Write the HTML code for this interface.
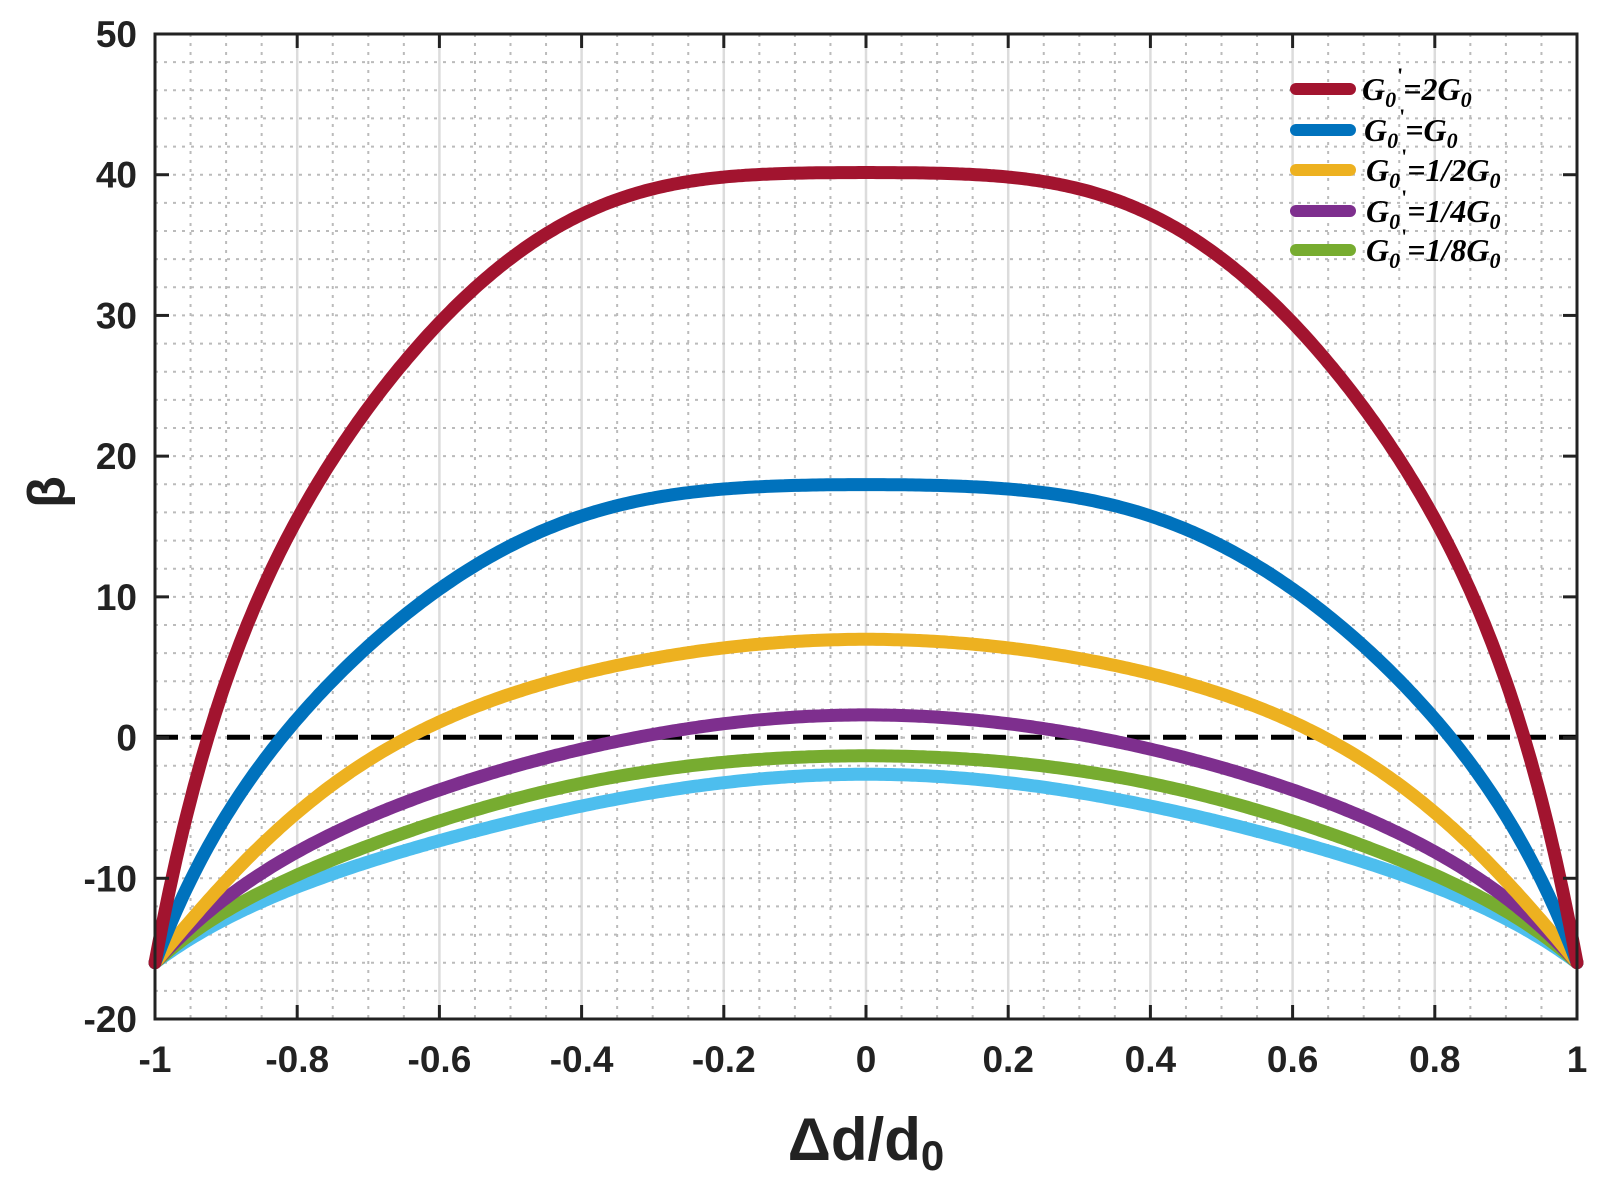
<!DOCTYPE html>
<html><head><meta charset="utf-8"><style>
html,body{margin:0;padding:0;background:#fff;}
svg{display:block;}
.t{font-family:"Liberation Sans",Arial,sans-serif;font-weight:bold;fill:#222;}
.lg{font-family:"Liberation Serif","Times New Roman",serif;font-weight:bold;font-style:italic;fill:#000;font-size:32px;}
</style></head><body>
<svg id="s" width="1620" height="1184" viewBox="0 0 1620 1184" xmlns="http://www.w3.org/2000/svg">
<g id="grid"></g>
<line x1="155" y1="737.3" x2="1577" y2="737.3" stroke="#000" stroke-width="5" stroke-dasharray="23,13"/>
<g id="curves" fill="none" stroke-width="13" stroke-linecap="round" stroke-linejoin="round"></g>
<g id="axes"></g>
<g id="labels"></g>
<g>
<line x1="1296" y1="89" x2="1350" y2="89" stroke="#A2142F" stroke-width="12" stroke-linecap="round"/>
<line x1="1296" y1="130" x2="1350" y2="130" stroke="#0072BD" stroke-width="12" stroke-linecap="round"/>
<line x1="1296" y1="170" x2="1350" y2="170" stroke="#EDB120" stroke-width="12" stroke-linecap="round"/>
<line x1="1296" y1="211" x2="1350" y2="211" stroke="#7E2F8E" stroke-width="12" stroke-linecap="round"/>
<line x1="1296" y1="250" x2="1350" y2="250" stroke="#77AC30" stroke-width="12" stroke-linecap="round"/>
<text class="lg" x="1362" y="100">G<tspan font-size="22" dy="7">0</tspan><tspan font-size="22" font-style="normal" dx="1" dy="-24">'</tspan><tspan dy="17">=2G</tspan><tspan font-size="22" dy="7">0</tspan></text>
<text class="lg" x="1364" y="141">G<tspan font-size="22" dy="7">0</tspan><tspan font-size="22" font-style="normal" dx="1" dy="-24">'</tspan><tspan dy="17">=G</tspan><tspan font-size="22" dy="7">0</tspan></text>
<text class="lg" x="1366" y="181">G<tspan font-size="22" dy="7">0</tspan><tspan font-size="22" font-style="normal" dx="1" dy="-24">'</tspan><tspan dy="17">=1/2G</tspan><tspan font-size="22" dy="7">0</tspan></text>
<text class="lg" x="1366" y="222">G<tspan font-size="22" dy="7">0</tspan><tspan font-size="22" font-style="normal" dx="1" dy="-24">'</tspan><tspan dy="17">=1/4G</tspan><tspan font-size="22" dy="7">0</tspan></text>
<text class="lg" x="1366" y="261">G<tspan font-size="22" dy="7">0</tspan><tspan font-size="22" font-style="normal" dx="1" dy="-24">'</tspan><tspan dy="17">=1/8G</tspan><tspan font-size="22" dy="7">0</tspan></text>
</g>
<text class="t" x="866" y="1160" text-anchor="middle" font-size="60">Δd/d<tspan font-size="42" dy="10">0</tspan></text>
<text class="t" transform="translate(64,492) rotate(-90)" text-anchor="middle" font-size="52">β</text>
</svg>
<script>
var NS="http://www.w3.org/2000/svg";
var L=155,R=1577,T=34,B=1019;
function X(v){return L+(v+1)/2*(R-L);}
function Y(v){return T+(50-v)*(B-T)/70;}
function el(p,tag,a){var e=document.createElementNS(NS,tag);for(var k in a)e.setAttribute(k,a[k]);p.appendChild(e);return e;}
var g=document.getElementById('grid');
for(var i=0;i<=40;i++){var x=X(-1+i*0.05);if(i%4==0&&i>0&&i<40){el(g,'line',{x1:x,y1:T,x2:x,y2:B,stroke:'#dcdcdc','stroke-width':2.5});}
 else if(i%4!=0) el(g,'line',{x1:x,y1:T,x2:x,y2:B,stroke:'#bbb','stroke-width':2,'stroke-dasharray':'3,6'});}
for(var v=-18;v<50;v+=2){var y=Y(v);el(g,'line',{x1:L,y1:y,x2:R,y2:y,stroke:'#bbb','stroke-width':2,'stroke-dasharray':'3,6'});}
var a=document.getElementById('axes');
el(a,'rect',{x:L,y:T,width:R-L,height:B-T,fill:'none',stroke:'#222','stroke-width':3});
var lab=document.getElementById('labels');
for(var v=-20;v<=50;v+=10){var y=Y(v);el(a,'line',{x1:L,y1:y,x2:L+14,y2:y,stroke:'#222','stroke-width':3});el(a,'line',{x1:R,y1:y,x2:R-14,y2:y,stroke:'#222','stroke-width':3});
 var t=el(lab,'text',{class:'t',x:137,y:y+13,'text-anchor':'end','font-size':37});t.textContent=v;}
for(var i=0;i<=10;i++){var v=-1+i*0.2;var x=X(v);el(a,'line',{x1:x,y1:B,x2:x,y2:B-14,stroke:'#222','stroke-width':3});el(a,'line',{x1:x,y1:T,x2:x,y2:T+14,stroke:'#222','stroke-width':3});
 var s=Math.abs(v)<1e-9?'0':(Math.round(v*10)/10).toString();
 var t=el(lab,'text',{class:'t',x:x,y:1072,'text-anchor':'middle','font-size':37});t.textContent=s;}
var xs=[0,0.2,0.4,0.6,0.7,0.8,0.9,0.95,1];
var ws=[10,1,1,1,1,1,1,1,100];
var data=[
['#4DBEEE',[-2.6,-3.3,-4.9,-7.2,-8.9,-10.7,-12.8,-14.3,-16]],
['#77AC30',[-1.3,-1.7,-3.3,-5.9,-7.7,-9.8,-12.3,-14.0,-16]],
['#7E2F8E',[1.6,1.1,-0.8,-3.8,-5.7,-8.0,-11.4,-13.6,-16]],
['#EDB120',[7.0,6.2,4.4,1.5,-1.8,-5.5,-10.1,-12.9,-16]],
['#0072BD',[18.0,17.4,15.7,10.7,6.7,0.8,-5.2,-10.2,-16]],
['#A2142F',[40.2,39.3,37.0,30.0,23.5,14.9,4.1,-4.0,-16]]];
var N=5;
function fit(ys){var A=[],b=[];for(var i=0;i<N;i++){A.push(new Array(N).fill(0));b.push(0);}
 for(var k=0;k<xs.length;k++){var u=xs[k]*xs[k];var ph=[];for(var i=0;i<N;i++)ph.push(Math.pow(u,i));
  for(var i=0;i<N;i++){b[i]+=ws[k]*ph[i]*ys[k];for(var j=0;j<N;j++)A[i][j]+=ws[k]*ph[i]*ph[j];}}
 for(var i=0;i<N;i++){var p=i;for(var r=i+1;r<N;r++)if(Math.abs(A[r][i])>Math.abs(A[p][i]))p=r;
  var tA=A[i];A[i]=A[p];A[p]=tA;var tb=b[i];b[i]=b[p];b[p]=tb;
  for(var r=0;r<N;r++){if(r==i)continue;var f=A[r][i]/A[i][i];for(var j=i;j<N;j++)A[r][j]-=f*A[i][j];b[r]-=f*b[i];}}
 var c=[];for(var i=0;i<N;i++)c.push(b[i]/A[i][i]);return c;}
var cg=document.getElementById('curves');
data.forEach(function(d){var c=fit(d[1]);var p='';for(var k=0;k<=400;k++){var x=-1+k/200;var u=x*x,v=0;for(var i=0;i<N;i++)v+=c[i]*Math.pow(u,i);
 p+=(k?'L':'M')+X(x).toFixed(1)+','+Y(v).toFixed(1);}
 el(cg,'path',{d:p,stroke:d[0]});});
</script>
</body></html>
